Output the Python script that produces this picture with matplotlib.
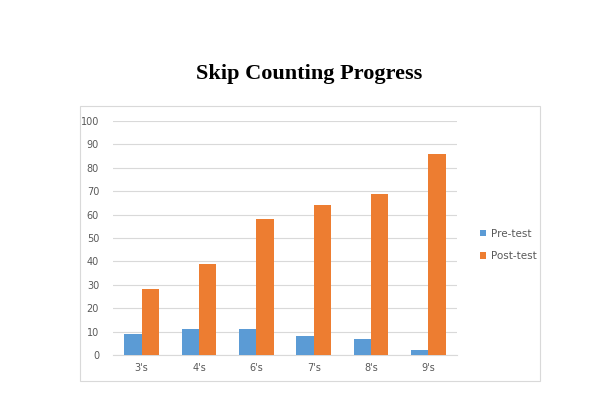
import matplotlib
matplotlib.use("Agg")
import matplotlib.pyplot as plt
import numpy as np
from matplotlib.patches import Rectangle

categories = ["3's", "4's", "6's", "7's", "8's", "9's"]
pre_test = [9, 11, 11, 8, 7, 2]
post_test = [28, 39, 58, 64, 69, 86]

blue = "#5B9BD5"
orange = "#ED7D31"
grey_text = "#595959"

fig = plt.figure(figsize=(6, 4), dpi=100)
fig.patch.set_facecolor("white")

# chart frame like the spreadsheet export
fig.patches.append(Rectangle((80 / 600, 1 - 381 / 400), 460 / 600, 275 / 400,
                             transform=fig.transFigure, fill=False,
                             edgecolor="#D9D9D9", linewidth=0.8))

fig.text(0.515, 1 - 74 / 400, "Skip Counting Progress", ha="center", va="center",
         fontsize=16, fontweight="bold", family="Liberation Serif")

ax = fig.add_axes([113 / 600, 1 - 355 / 400, 344 / 600, 234 / 400])
x = np.arange(len(categories))
w = 0.3
ax.bar(x - w / 2, pre_test, w, color=blue, label="Pre-test", zorder=3)
ax.bar(x + w / 2, post_test, w, color=orange, label="Post-test", zorder=3)

ax.set_xlim(-0.5, len(categories) - 0.5)
ax.set_ylim(0, 100)
ax.set_yticks(range(0, 101, 10))
ax.set_xticks(x)
ax.set_xticklabels(categories)
ax.grid(axis="y", color="#D9D9D9", linewidth=0.8, zorder=0)
for s in ["top", "right", "left"]:
    ax.spines[s].set_visible(False)
ax.spines["bottom"].set_color("#D9D9D9")
ax.tick_params(length=0, labelsize=7, labelcolor=grey_text, pad=6)
ax.tick_params(axis="y", pad=10)

ax.legend(loc="center left", bbox_to_anchor=(1.04, 0.47), frameon=False,
          fontsize=7.5, labelcolor=grey_text, handlelength=0.6, handleheight=0.6,
          handletextpad=0.4, labelspacing=1.2)

fig.savefig("out.png", dpi=100)
